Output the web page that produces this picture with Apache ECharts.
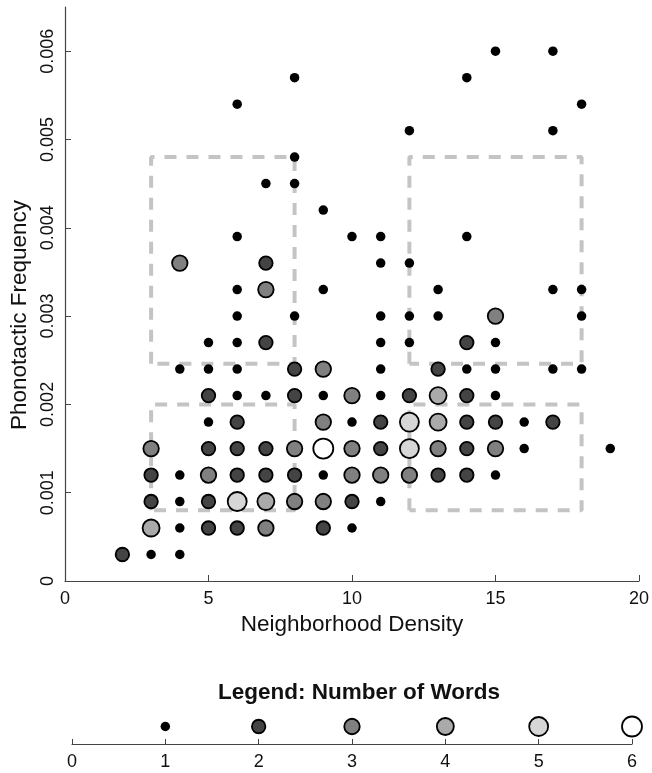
<!DOCTYPE html>
<html><head><meta charset="utf-8">
<script src="https://cdn.jsdelivr.net/npm/echarts@6/dist/echarts.min.js"></script>
<style>html,body{margin:0;padding:0;background:#fff}#c{width:652px;height:773px}</style>
</head><body><div id="c"></div>
<script>
// Neighborhood density (x), phonotactic frequency (y), number of words (count)
const density = [
  15,17,
  8,14,
  6,18,
  12,17,
  8,
  7,8,
  9,
  6,10,11,14,
  4,7,11,12,
  6,7,9,13,17,18,
  6,8,11,12,13,15,18,
  5,6,7,11,12,14,15,
  4,5,6,8,9,11,13,14,15,17,18,
  5,6,7,8,9,10,11,12,13,14,15,
  5,6,9,10,11,12,13,14,15,16,17,
  3,5,6,7,8,9,10,11,12,13,14,15,16,19,
  3,4,5,6,7,8,9,10,11,12,13,14,15,
  3,4,5,6,7,8,9,10,11,
  3,4,5,6,7,9,10,
  2,3,4
];
const frequency = [
  0.0060,0.0060,
  0.0057,0.0057,
  0.0054,0.0054,
  0.0051,0.0051,
  0.0048,
  0.0045,0.0045,
  0.0042,
  0.0039,0.0039,0.0039,0.0039,
  0.0036,0.0036,0.0036,0.0036,
  0.0033,0.0033,0.0033,0.0033,0.0033,0.0033,
  0.0030,0.0030,0.0030,0.0030,0.0030,0.0030,0.0030,
  0.0027,0.0027,0.0027,0.0027,0.0027,0.0027,0.0027,
  0.0024,0.0024,0.0024,0.0024,0.0024,0.0024,0.0024,0.0024,0.0024,0.0024,0.0024,
  0.0021,0.0021,0.0021,0.0021,0.0021,0.0021,0.0021,0.0021,0.0021,0.0021,0.0021,
  0.0018,0.0018,0.0018,0.0018,0.0018,0.0018,0.0018,0.0018,0.0018,0.0018,0.0018,
  0.0015,0.0015,0.0015,0.0015,0.0015,0.0015,0.0015,0.0015,0.0015,0.0015,0.0015,0.0015,0.0015,0.0015,
  0.0012,0.0012,0.0012,0.0012,0.0012,0.0012,0.0012,0.0012,0.0012,0.0012,0.0012,0.0012,0.0012,
  0.0009,0.0009,0.0009,0.0009,0.0009,0.0009,0.0009,0.0009,0.0009,
  0.0006,0.0006,0.0006,0.0006,0.0006,0.0006,0.0006,
  0.0003,0.0003,0.0003
];
const wordCount = [
  1,1,
  1,1,
  1,1,
  1,1,
  1,
  1,1,
  1,
  1,1,1,1,
  3,2,1,1,
  1,3,1,1,1,1,
  1,1,1,1,1,3,1,
  1,1,2,1,1,2,1,
  1,1,1,2,3,1,2,1,1,1,1,
  2,1,1,2,1,3,1,2,4,2,1,
  1,2,3,1,2,5,4,2,2,1,2,
  3,2,2,2,3,6,3,2,5,3,2,3,1,1,
  2,1,3,2,2,2,1,3,3,3,2,2,1,
  2,1,2,5,4,3,3,2,1,
  4,1,2,2,3,2,1,
  2,1,1
];
// dashed region boxes
const boxLeft   = [3, 12, 3, 12];
const boxRight  = [8, 18, 8, 18];
const boxBottom = [0.00246, 0.00246, 0.0008, 0.0008];
const boxTop    = [0.0048, 0.0048, 0.0020, 0.0020];
// tick labels
const xTicks = [0, 5, 10, 15, 20];
const yTicks = [0, 0.001, 0.002, 0.003, 0.004, 0.005, 0.006];
const legendLevels = [1, 2, 3, 4, 5, 6];
const legendTicks = [0, 1, 2, 3, 4, 5, 6];

const fills = {1:'#000000', 2:'#444444', 3:'#808080', 4:'#aaaaaa', 5:'#d6d6d6', 6:'#ffffff'};
const sizes = {1:9.5, 2:13.5, 3:15.5, 4:17, 5:19, 6:20};
const FONT = 'Liberation Sans';
const AX = '#444';

const series = [];
boxLeft.forEach((l, i) => {
  const r = boxRight[i], b = boxBottom[i], t = boxTop[i];
  series.push({
    type: 'line', xAxisIndex: 0, yAxisIndex: 0, symbol: 'none', silent: true, z: 1,
    data: [[l, b], [l, t], [r, t], [r, b], [l, b]],
    lineStyle: {color: '#c4c4c4', width: 4, type: [12, 10], opacity: 1}
  });
});
legendLevels.forEach(n => {
  const pts = [];
  density.forEach((x, i) => { if (wordCount[i] === n) pts.push([x, frequency[i]]); });
  const st = n === 1 ? {color: '#000', borderWidth: 0, opacity: 1}
                     : {color: fills[n], borderColor: '#000', borderWidth: 1.8, opacity: 1};
  series.push({type: 'scatter', xAxisIndex: 0, yAxisIndex: 0, symbolSize: sizes[n], data: pts, itemStyle: st, z: 3});
  series.push({type: 'scatter', xAxisIndex: 1, yAxisIndex: 1, symbolSize: sizes[n], data: [[n, 0.5]], itemStyle: st, z: 3});
});

const chart = echarts.init(document.getElementById('c'), null, {renderer: 'canvas'});
chart.setOption({
  animation: false,
  backgroundColor: '#fff',
  textStyle: {fontFamily: FONT},
  title: {
    text: 'Legend: Number of Words', left: 354, top: 676, textAlign: 'center',
    textStyle: {fontFamily: FONT, fontSize: 22.5, fontWeight: 'bold', color: '#111'}
  },
  grid: [
    {left: 65, right: 13, top: 7, height: 574},
    {left: 72, right: 20, top: 709, height: 35}
  ],
  xAxis: [
    {
      type: 'value', gridIndex: 0, min: 0, max: 20, interval: 5,
      name: 'Neighborhood Density', nameLocation: 'middle', nameGap: 29,
      nameTextStyle: {fontFamily: FONT, fontSize: 22.5, color: '#111'},
      axisLine: {show: true, lineStyle: {color: AX, width: 1.2}},
      axisTick: {show: true, inside: true, length: 6, lineStyle: {color: AX}},
      axisLabel: {fontFamily: FONT, fontSize: 18, color: '#111', margin: 9,
        customValues: xTicks},
      splitLine: {show: false}
    },
    {
      type: 'value', gridIndex: 1, min: 0, max: 6, interval: 1,
      axisLine: {show: true, lineStyle: {color: AX, width: 1.2}},
      axisTick: {show: true, inside: true, length: 5, lineStyle: {color: AX}, customValues: legendTicks},
      axisLabel: {fontFamily: FONT, fontSize: 18, color: '#111', margin: 9, customValues: legendTicks},
      splitLine: {show: false}
    }
  ],
  yAxis: [
    {
      type: 'value', gridIndex: 0, min: 0, max: 0.0065,
      name: 'Phonotactic Frequency', nameLocation: 'middle', nameGap: 34, nameRotate: 90,
      nameTextStyle: {fontFamily: FONT, fontSize: 22.5, color: '#111', padding: [0, 42, 0, 0]},
      axisLine: {show: true, lineStyle: {color: AX, width: 1.2}},
      axisTick: {show: true, inside: true, length: 6, lineStyle: {color: AX}, customValues: yTicks},
      axisLabel: {fontFamily: FONT, fontSize: 18, color: '#111', margin: 8, rotate: 90,
        customValues: yTicks, formatter: v => String(v)},
      splitLine: {show: false}
    },
    {
      type: 'value', gridIndex: 1, min: 0, max: 1, show: false
    }
  ],
  series: series
});
</script></body></html>
